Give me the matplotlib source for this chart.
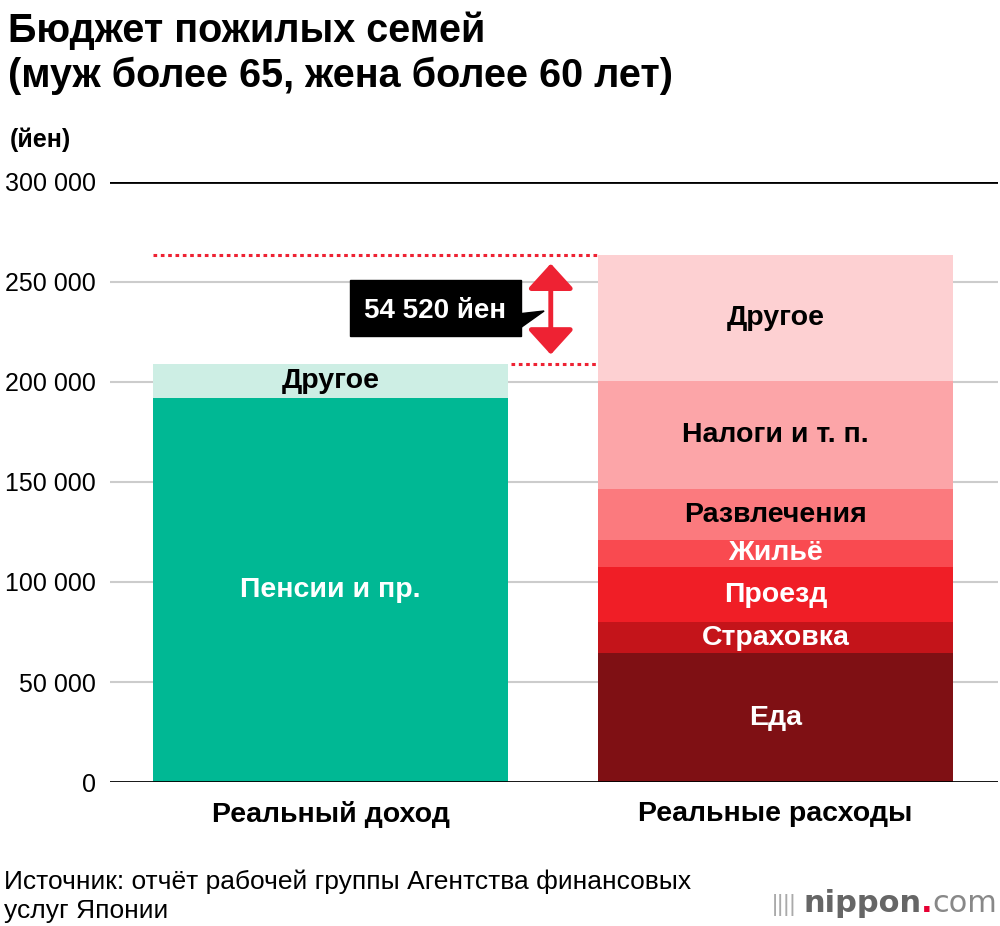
import matplotlib.pyplot as plt
from matplotlib.patches import Polygon, Rectangle

# data (yen per month)
income_labels = ["Пенсии и пр.", "Другое"]
income_values = [191880, 17318]
income_colors = ["#00b894", "#cdeee4"]
income_text_colors = ["white", "black"]

expense_labels = ["Еда", "Страховка", "Проезд", "Жильё", "Развлечения", "Налоги и т. п.", "Другое"]
expense_values = [64444, 15512, 27576, 13656, 25077, 54028, 63425]
expense_colors = ["#7f1014", "#c4141a", "#f01e26", "#f94a50", "#fb7a7e", "#fca5a8", "#fdd0d2"]
expense_text_colors = ["white", "white", "white", "white", "black", "black", "black"]

categories = ["Реальный доход", "Реальные расходы"]
yticks = [0, 50000, 100000, 150000, 200000, 250000, 300000]
ytick_labels = ["0", "50 000", "100 000", "150 000", "200 000", "250 000", "300 000"]
gap_label = "54 520 йен"

plt.rcParams["font.family"] = ["Liberation Sans", "DejaVu Sans"]

fig = plt.figure(figsize=(10, 9.26), dpi=100)
W, H = 1000, 926
ax = fig.add_axes([110 / W, 1 - 782 / H, 888 / W, 600 / H])
ax.set_xlim(-0.4955, 1.5)
ax.set_ylim(0, 300000)

for t in yticks:
    edge = t in (0, 300000)
    ax.axhline(t, color="black" if edge else "#cccccc", lw=2 if edge else 1.5,
               zorder=3 if edge else 0)

bw = 0.798
bottom = 0
for lab, v, c, tc in zip(income_labels, income_values, income_colors, income_text_colors):
    ax.bar(0, v, bw, bottom=bottom, color=c, zorder=2)
    ax.text(0, bottom + v / 2, lab, ha="center", va="center", color=tc,
            fontsize=20.5, fontweight="bold", zorder=4)
    bottom += v
income_total = bottom

bottom = 0
for lab, v, c, tc in zip(expense_labels, expense_values, expense_colors, expense_text_colors):
    ax.bar(1, v, bw, bottom=bottom, color=c, zorder=2)
    ax.text(1, bottom + v / 2, lab, ha="center", va="center", color=tc,
            fontsize=20.5, fontweight="bold", zorder=4)
    bottom += v
expense_total = bottom

# gap marker
red = "#ee2233"
ax.plot([-bw / 2, 1 - bw / 2], [expense_total, expense_total], color=red, lw=2.2,
        ls=(0, (1.2, 1.2)), zorder=3)
ax.plot([0.405, 1 - bw / 2], [income_total, income_total], color=red, lw=2.2,
        ls=(0, (1.2, 1.2)), zorder=3)
ax.annotate("", xy=(0.495, expense_total - 4500), xytext=(0.495, income_total + 4500),
            arrowprops=dict(arrowstyle="<|-|>,head_length=0.55,head_width=0.5", color=red, lw=3.5,
                            mutation_scale=28, shrinkA=0, shrinkB=0), zorder=5)
ax.add_patch(Rectangle((0.043, 223000), 0.384, 28000, color="black", zorder=5))
ax.add_patch(Polygon([[0.42, 234000], [0.48, 235500], [0.42, 226000]], color="black", zorder=5))
ax.text(0.235, 235500, gap_label, ha="center", va="center", color="white",
        fontsize=20, fontweight="bold", zorder=6)

ax.set_yticks(yticks)
ax.set_yticklabels(ytick_labels, fontsize=18)
ax.set_xticks([0, 1])
ax.set_xticklabels(categories, fontsize=20.5, fontweight="bold")
ax.tick_params(length=0, axis="y", pad=10)
ax.tick_params(length=0, axis="x", pad=14)
for s in ax.spines.values():
    s.set_visible(False)

fig.text(8 / W, 1 - 11 / H, "Бюджет пожилых семей\n(муж более 65, жена более 60 лет)",
         fontsize=28.5, fontweight="bold", va="top", ha="left", linespacing=1.25)
fig.text(10 / W, 1 - 140 / H, "(йен)", fontsize=18, fontweight="bold", va="center")
fig.text(4 / W, 1 - 896 / H, "Источник: отчёт рабочей группы Агентства финансовых\nуслуг Японии",
         fontsize=19, va="center", ha="left", linespacing=1.25)

# logo
fig.text(772 / W, 1 - 905 / H, "||||", fontsize=17, color="#aaaaaa", va="center")
t1 = fig.text(803 / W, 1 - 903 / H, "nippon", fontsize=22, fontweight="bold", color="#666666",
              va="center", family="DejaVu Sans")
t2 = fig.text(0, 0, ".", fontsize=22, fontweight="bold", color="#e60033",
              va="center", family="DejaVu Sans")
fig.canvas.draw()
r = fig.canvas.get_renderer()
bb = t1.get_window_extent(r)
t2.set_position((bb.x1 / W, (bb.y0 + bb.y1) / 2 / H))
bb2 = t2.get_window_extent(r)
fig.text(bb2.x1 / W, (bb.y0 + bb.y1) / 2 / H, "com", fontsize=22, color="#888888", va="center",
         family="DejaVu Sans")

fig.savefig("out.png", dpi=100)
